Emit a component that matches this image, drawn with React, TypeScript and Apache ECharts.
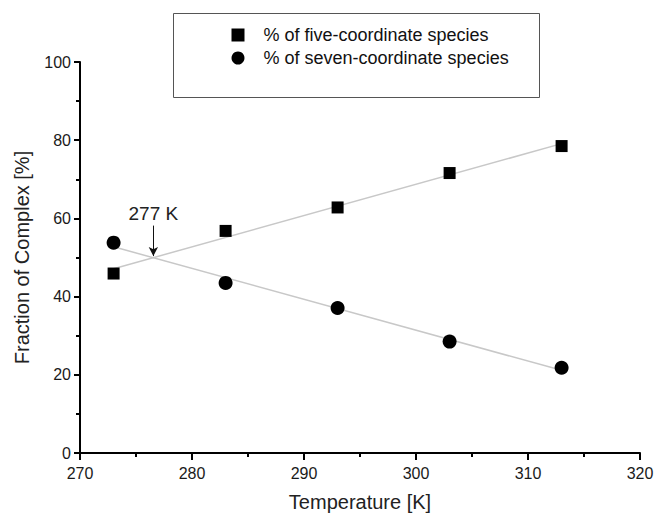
import React, { useEffect, useRef } from "react";
import * as echarts from "echarts";

const temperatures = [273, 283, 293, 303, 313];
const fiveCoordinate = [45.9, 56.8, 62.8, 71.6, 78.5];
const sevenCoordinate = [53.8, 43.5, 37.1, 28.5, 21.8];
const xTicks = [270, 280, 290, 300, 310, 320];
const yTicks = [0, 20, 40, 60, 80, 100];
const seriesNames = ["% of five-coordinate species", "% of seven-coordinate species"];
const crossingLabel = "277 K";
const crossingT = 276.55;

const FONT = "'Liberation Sans', Arial, Helvetica, sans-serif";

function fit(xs: number[], ys: number[]) {
  const n = xs.length;
  const mx = xs.reduce((a, b) => a + b, 0) / n;
  const my = ys.reduce((a, b) => a + b, 0) / n;
  let sxy = 0;
  let sxx = 0;
  for (let i = 0; i < n; i++) {
    sxy += (xs[i] - mx) * (ys[i] - my);
    sxx += (xs[i] - mx) * (xs[i] - mx);
  }
  const slope = sxy / sxx;
  const b = my - slope * mx;
  const x0 = xs[0];
  const x1 = xs[n - 1];
  return [
    [x0, slope * x0 + b],
    [x1, slope * x1 + b],
  ];
}

export default function App() {
  const ref = useRef<HTMLDivElement>(null);
  useEffect(() => {
    if (!ref.current) return;
    const chart = echarts.init(ref.current, undefined, { renderer: "svg" });
    const fitFive = fit(temperatures, fiveCoordinate);
    const fitSeven = fit(temperatures, sevenCoordinate);
    const crossY =
      fitFive[0][1] +
      ((fitFive[1][1] - fitFive[0][1]) * (crossingT - fitFive[0][0])) / (fitFive[1][0] - fitFive[0][0]);
    const axisColor = "#000000";
    const option: any = {
      animation: false,
      backgroundColor: "#ffffff",
      textStyle: { fontFamily: FONT },
      grid: { left: 80, right: 14, top: 62, bottom: 61, containLabel: false, outerBoundsMode: "none" },
      graphic: [
        {
          type: "rect",
          left: 173,
          top: 13,
          shape: { width: 366, height: 84 },
          style: { fill: "#ffffff", stroke: "#555555", lineWidth: 1 },
          z: 0,
        },
      ],
      legend: {
        data: seriesNames.map((name, i) => ({ name, icon: i === 0 ? "rect" : "circle" })),
        orient: "vertical",
        left: 231.5,
        top: 25.5,
        padding: 0,
        itemWidth: 13,
        itemHeight: 13,
        itemGap: 4,
        selectedMode: false,
        itemStyle: { opacity: 1 },
        textStyle: {
          fontFamily: FONT,
          fontSize: 18,
          color: "#111111",
          lineHeight: 19,
          padding: [0, 0, 0, 14],
        },
        z: 5,
      },
      xAxis: {
        type: "value",
        min: xTicks[0],
        max: xTicks[xTicks.length - 1],
        interval: 10,
        name: "Temperature [K]",
        nameLocation: "middle",
        nameGap: 39,
        nameTextStyle: { fontFamily: FONT, fontSize: 20, color: "#222222" },
        axisLine: { show: true, onZero: false, lineStyle: { color: axisColor, width: 2 } },
        axisTick: { show: true, length: 7, lineStyle: { color: axisColor, width: 2 } },
        minorTick: { show: true, splitNumber: 2, length: 4, lineStyle: { color: axisColor, width: 2 } },
        axisLabel: { fontFamily: FONT, fontSize: 16, color: "#1a1a1a", margin: 12 },
        splitLine: { show: false },
      },
      yAxis: {
        type: "value",
        min: yTicks[0],
        max: yTicks[yTicks.length - 1],
        interval: 20,
        name: "Fraction of Complex [%]",
        nameLocation: "middle",
        nameGap: 48,
        nameTextStyle: { fontFamily: FONT, fontSize: 20, color: "#222222" },
        axisLine: { show: true, onZero: false, lineStyle: { color: axisColor, width: 2 } },
        axisTick: { show: true, length: 6, lineStyle: { color: axisColor, width: 2 } },
        minorTick: { show: true, splitNumber: 2, length: 4, lineStyle: { color: axisColor, width: 2 } },
        axisLabel: { fontFamily: FONT, fontSize: 16, color: "#1a1a1a", margin: 9 },
        splitLine: { show: false },
      },
      series: [
        {
          name: "fit five",
          type: "line",
          data: fitFive,
          symbol: "none",
          lineStyle: { color: "#c8c8c8", width: 1.5 },
          z: 1,
          silent: true,
          markPoint: {
            symbol: "circle",
            symbolSize: 0,
            silent: true,
            data: [{ coord: [crossingT, crossY + 11.3], value: crossingLabel }],
            label: {
              show: true,
              formatter: crossingLabel,
              position: "inside",
              fontFamily: FONT,
              fontSize: 19,
              color: "#222222",
            },
          },
          markLine: {
            silent: true,
            symbol: ["none", "arrow"],
            symbolSize: [7, 9],
            label: { show: false },
            lineStyle: { color: "#111111", width: 1, type: "solid" },
            data: [
              [
                { coord: [crossingT, crossY + 8.2] },
                { coord: [crossingT, crossY + 0.4] },
              ],
            ],
          },
        },
        {
          name: "fit seven",
          type: "line",
          data: fitSeven,
          symbol: "none",
          lineStyle: { color: "#c8c8c8", width: 1.5 },
          z: 1,
          silent: true,
        },
        {
          name: seriesNames[0],
          type: "scatter",
          data: temperatures.map((t, i) => [t, fiveCoordinate[i]]),
          symbol: "rect",
          symbolSize: 12,
          itemStyle: { color: "#000000", opacity: 1 },
          z: 3,
        },
        {
          name: seriesNames[1],
          type: "scatter",
          data: temperatures.map((t, i) => [t, sevenCoordinate[i]]),
          symbol: "circle",
          symbolSize: 14,
          itemStyle: { color: "#000000", opacity: 1 },
          z: 3,
        },
      ],
    };
    chart.setOption(option);
    return () => chart.dispose();
  }, []);
  return (
    <div
      ref={ref}
      style={{ position: "fixed", left: 0, top: 0, width: 654, height: 514, background: "#fff" }}
    />
  );
}
